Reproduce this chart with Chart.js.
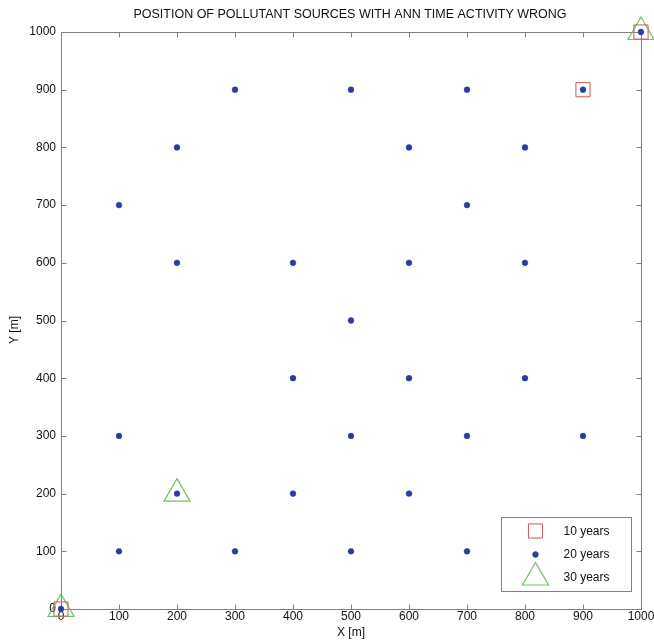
<!DOCTYPE html>
<html><head><meta charset="utf-8">
<script src="https://cdn.jsdelivr.net/npm/chart.js@4.4.1/dist/chart.umd.min.js"></script>
<style>html,body{margin:0;padding:0;background:#fff}#wrap{width:654px;height:642px;position:relative}</style>
</head><body><div id="wrap"><canvas id="c" width="654" height="642"></canvas></div>
<script>
const titleText = 'POSITION OF POLLUTANT SOURCES WITH ANN TIME ACTIVITY WRONG';
const xAxisTitle = 'X [m]';
const yAxisTitle = 'Y [m]';
const tickValues = [0,100,200,300,400,500,600,700,800,900,1000];
const seriesLabels = ['10 years','20 years','30 years'];
const tenX = [0, 900, 1000];
const tenY = [0, 900, 1000];
const twentyX = [0,1000,300,500,700,900,200,600,800,100,700,200,400,600,800,500,400,600,800,100,500,700,900,200,400,600,100,300,500,700];
const twentyY = [0,1000,900,900,900,900,800,800,800,700,700,600,600,600,600,500,400,400,400,300,300,300,300,200,200,200,100,100,100,100];
const thirtyX = [0, 200, 1000];
const thirtyY = [0, 200, 1000];

const RED = '#c9575c', BLUE = '#2b3b9e', GREEN = '#6cc35e', AX = '#808080';
const FONT = '"Liberation Sans", Arial, sans-serif';
const zip = (xs, ys) => xs.map((v, i) => ({x: v, y: ys[i]}));

const styles = [
  {pointStyle: 'rect', radius: 10, borderColor: RED, backgroundColor: 'rgba(0,0,0,0)', borderWidth: 1},
  {pointStyle: 'circle', radius: 2.9, borderColor: BLUE, backgroundColor: BLUE, borderWidth: 0.5},
  {pointStyle: 'triangle', radius: 15, borderColor: GREEN, backgroundColor: 'rgba(0,0,0,0)', borderWidth: 1.2}
];

const frame = {
  id: 'frame',
  beforeDatasetsDraw(chart) {
    const {ctx, chartArea: a, scales: {x, y}} = chart;
    ctx.save();
    ctx.strokeStyle = AX; ctx.lineWidth = 1;
    const L = Math.round(a.left) + 0.5, R = Math.round(a.right) + 0.5, T = Math.round(a.top) + 0.5, B = Math.round(a.bottom) + 0.5;
    ctx.strokeRect(L, T, R - L, B - T);
    ctx.beginPath();
    tickValues.forEach(v => {
      const px = Math.round(x.getPixelForValue(v)) + 0.5;
      ctx.moveTo(px, B); ctx.lineTo(px, B - 5);
      ctx.moveTo(px, T); ctx.lineTo(px, T + 5);
      const py = Math.round(y.getPixelForValue(v)) + 0.5;
      ctx.moveTo(L, py); ctx.lineTo(L + 5, py);
      ctx.moveTo(R, py); ctx.lineTo(R - 5, py);
    });
    ctx.stroke();
    ctx.fillStyle = '#111';
    ctx.font = '12px ' + FONT;
    ctx.textAlign = 'center'; ctx.textBaseline = 'top';
    tickValues.forEach(v => {
      ctx.fillText(String(v), x.getPixelForValue(v), a.bottom + 2);
    });
    ctx.restore();
  },
  afterDraw(chart) {
    const {ctx, chartArea: a} = chart;
    ctx.save();
    ctx.fillStyle = '#111';
    ctx.font = '12.5px ' + FONT;
    ctx.textAlign = 'center'; ctx.textBaseline = 'middle';
    ctx.fillText(titleText, 350, 15);
    ctx.font = '12px ' + FONT;
    ctx.fillText(xAxisTitle, 351, 633);
    ctx.save();
    ctx.translate(15, 330); ctx.rotate(-Math.PI / 2);
    ctx.fillText(yAxisTitle, 0, 0);
    ctx.restore();
    // legend
    const bx = Math.round(a.right) - 140 + 0.5, by = Math.round(a.bottom) - 92 + 0.5;
    ctx.fillStyle = '#fff'; ctx.strokeStyle = AX; ctx.lineWidth = 1;
    ctx.fillRect(bx, by, 130, 74); ctx.strokeRect(bx, by, 130, 74);
    const rows = [by + 13.5, by + 37, by + 60];
    seriesLabels.forEach((lab, i) => {
      const s = styles[i];
      ctx.strokeStyle = s.borderColor; ctx.fillStyle = s.backgroundColor; ctx.lineWidth = s.borderWidth;
      Chart.helpers.drawPoint(ctx, {pointStyle: s.pointStyle, radius: s.radius, rotation: 0, borderWidth: s.borderWidth}, bx + 34, rows[i]);
      ctx.fillStyle = '#111'; ctx.textAlign = 'left'; ctx.textBaseline = 'middle';
      ctx.font = '12px ' + FONT;
      ctx.fillText(lab, bx + 62, rows[i] + 0.5);
    });
    ctx.restore();
  }
};

const mk = (i, xs, ys, order) => ({
  label: seriesLabels[i], data: zip(xs, ys), showLine: false, clip: false, order,
  pointStyle: styles[i].pointStyle, pointRadius: styles[i].radius, pointHoverRadius: styles[i].radius,
  pointBorderColor: styles[i].borderColor, pointBackgroundColor: styles[i].backgroundColor,
  pointBorderWidth: styles[i].borderWidth
});

const noPad = s => { s.paddingLeft = 0; s.paddingRight = 0; s.paddingTop = 0; s.paddingBottom = 0; };

new Chart(document.getElementById('c'), {
  type: 'scatter',
  data: {datasets: [mk(1, twentyX, twentyY, 0), mk(0, tenX, tenY, 1), mk(2, thirtyX, thirtyY, 2)]},
  options: {
    responsive: false, animation: false, devicePixelRatio: 1,
    layout: {autoPadding: false, padding: {left: 0, top: 32, right: 13, bottom: 0}},
    plugins: {legend: {display: false}, tooltip: {enabled: false}, title: {display: false}},
    scales: {
      x: {type: 'linear', min: 0, max: 1000, afterFit: s => { s.height = 33; noPad(s); },
        afterBuildTicks: s => { s.ticks = tickValues.map(v => ({value: v})); },
        grid: {display: false, drawTicks: false}, border: {display: false},
        ticks: {display: false}},
      y: {type: 'linear', min: 0, max: 1000, afterFit: s => { s.width = 61; noPad(s); },
        afterBuildTicks: s => { s.ticks = tickValues.map(v => ({value: v})); },
        grid: {display: false, drawTicks: false}, border: {display: false},
        ticks: {padding: 5, color: '#111', font: {family: FONT, size: 12}, autoSkip: false, callback: v => String(v)}}
    }
  },
  plugins: [frame]
});
</script></body></html>
